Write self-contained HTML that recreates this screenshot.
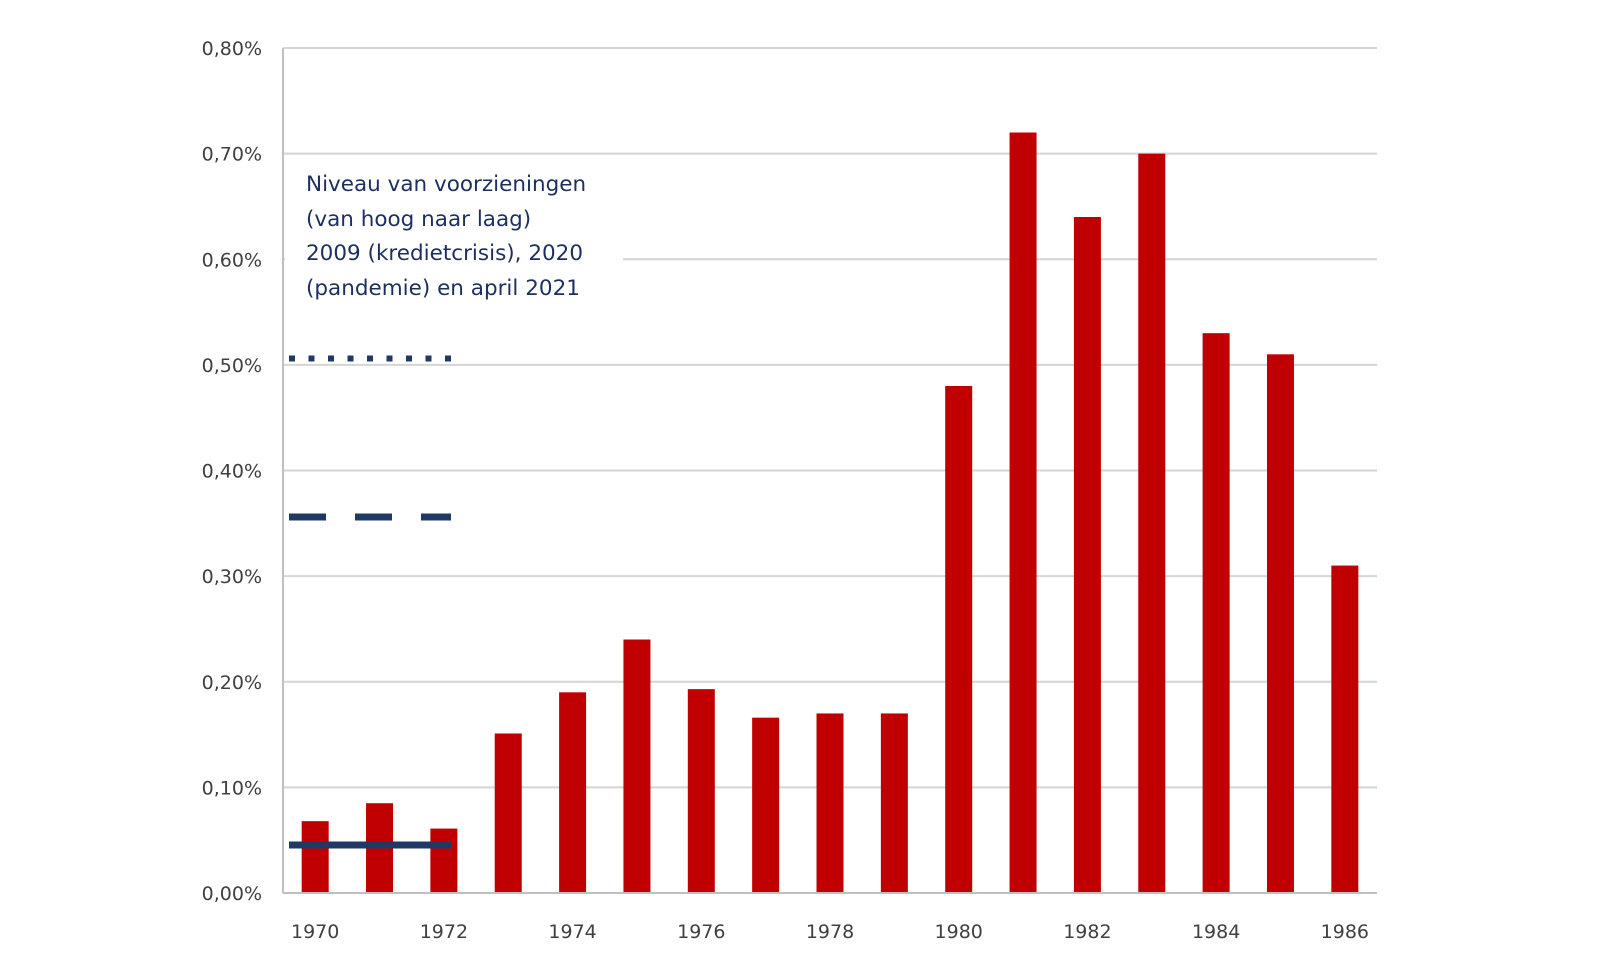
<!DOCTYPE html>
<html><head><meta charset="utf-8"><style>
html,body{margin:0;padding:0;background:#fff;}
svg{display:block;}
</style></head><body>
<svg id="chart" width="1600" height="971" viewBox="0 0 1600 971" xmlns="http://www.w3.org/2000/svg" font-family="'DejaVu Sans','Liberation Sans',sans-serif">
<g id="grid"></g>
<g id="bars"></g>
<rect x="285" y="160" width="338" height="145" fill="#fff"/>
<g id="refs"></g>
<g id="axes"></g>
<g fill="#1c2f5e" font-size="21.5" font-weight="500">
<text x="306" y="191">Niveau van voorzieningen</text>
<text x="306" y="226">(van hoog naar laag)</text>
<text x="306" y="260">2009 (kredietcrisis), 2020</text>
<text x="306" y="295">(pandemie) en april 2021</text>
</g>
</svg>
<script>
const years = [1970,1971,1972,1973,1974,1975,1976,1977,1978,1979,1980,1981,1982,1983,1984,1985,1986];
const values = [0.068,0.085,0.061,0.151,0.190,0.240,0.193,0.166,0.170,0.170,0.480,0.720,0.640,0.700,0.530,0.510,0.310];
const yTicks = [0,0.1,0.2,0.3,0.4,0.5,0.6,0.7,0.8];
const yTickLabels = ["0,00%","0,10%","0,20%","0,30%","0,40%","0,50%","0,60%","0,70%","0,80%"];
const xTickLabels = ["1970","1972","1974","1976","1978","1980","1982","1984","1986"];
const refValues = [0.506,0.356,0.0455];
const refStyles = ["dotted","dashed","solid"];

const NS="http://www.w3.org/2000/svg";
const X0=283, X1=1377, Y0=893, Y1=48;
const band=(X1-X0)/years.length;
function xc(i){return X0+band*(i+0.5);}
function ys(v){return Y0-(v/0.8)*(Y0-Y1);}
function mk(tag,attrs,parent){const e=document.createElementNS(NS,tag);for(const k in attrs)e.setAttribute(k,attrs[k]);parent.appendChild(e);return e;}
const grid=document.getElementById('grid'),bars=document.getElementById('bars'),axes=document.getElementById('axes'),refs=document.getElementById('refs');

yTicks.forEach((t,i)=>{
  if(t>0){
    const l=mk('line',{x1:X0,x2:X1,y1:ys(t),y2:ys(t),stroke:'#d4d4d4','stroke-width':2},grid);
    
    
  }
  const tx=mk('text',{x:262,y:ys(t)+7,'text-anchor':'end','font-size':19,'font-weight':500,fill:'#404040'},axes);
  tx.textContent=yTickLabels[i];
  
  
});
values.forEach((v,i)=>{
  const r=mk('rect',{x:xc(i)-13.5,y:ys(v),width:27,height:Y0-ys(v),fill:'#c00000'},bars);
  
  
});
const ya=mk('line',{x1:X0,x2:X0,y1:Y1,y2:Y0,stroke:'#bfbfbf','stroke-width':2},axes);


const xa=mk('line',{x1:X0,x2:X1,y1:Y0,y2:Y0,stroke:'#bfbfbf','stroke-width':2},axes);


xTickLabels.forEach(lbl=>{
  const i=years.indexOf(+lbl);
  const tx=mk('text',{x:xc(i),y:938,'text-anchor':'middle','font-size':19,'font-weight':500,fill:'#404040'},axes);
  tx.textContent=lbl;
  
  
});
refValues.forEach((v,i)=>{
  const st=refStyles[i];
  const a={x1:289,x2:451,y1:ys(v),y2:ys(v),stroke:'#1f3864','stroke-width':st==='dotted'?6:7};
  if(st==='dotted')a['stroke-dasharray']='6 13.5';
  if(st==='dashed')a['stroke-dasharray']='37 29';
  const l=mk('line',a,refs);
  
  
});
</script>
</body></html>
